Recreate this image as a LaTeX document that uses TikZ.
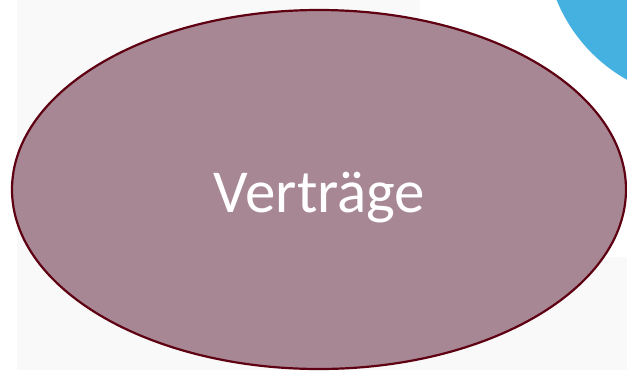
\documentclass[tikz,border=0pt]{standalone}
\usepackage{fontspec}
\setmainfont{Carlito}
\definecolor{bggrey}{HTML}{F9F9F9}
\definecolor{mauve}{HTML}{A88795}
\definecolor{darkrim}{HTML}{5E0012}
\definecolor{skyblue}{HTML}{45B1E0}
\tikzset{
  ovalshape/.style={fill=mauve, draw=darkrim, line width=2.2pt},
  bigtext/.style={text=white, font=\fontsize{61}{66}\selectfont, inner sep=0pt, anchor=base}
}
\begin{document}
\begin{tikzpicture}[x=1pt, y=-1pt]
\useasboundingbox (0,0) rectangle (627,370);
\clip (0,0) rectangle (627,370);
\fill[bggrey] (0,0) rectangle (627,370);
\fill[white] (0,0) rectangle (17,370);
\fill[white] (420,0) rectangle (627,257);
\fill[skyblue] (705,-60) circle (160);
\draw[ovalshape] (319,189.5) ellipse (307 and 179.5);
\node[bigtext] (t) at (319.5,212) {Verträge};
\end{tikzpicture}
\end{document}
